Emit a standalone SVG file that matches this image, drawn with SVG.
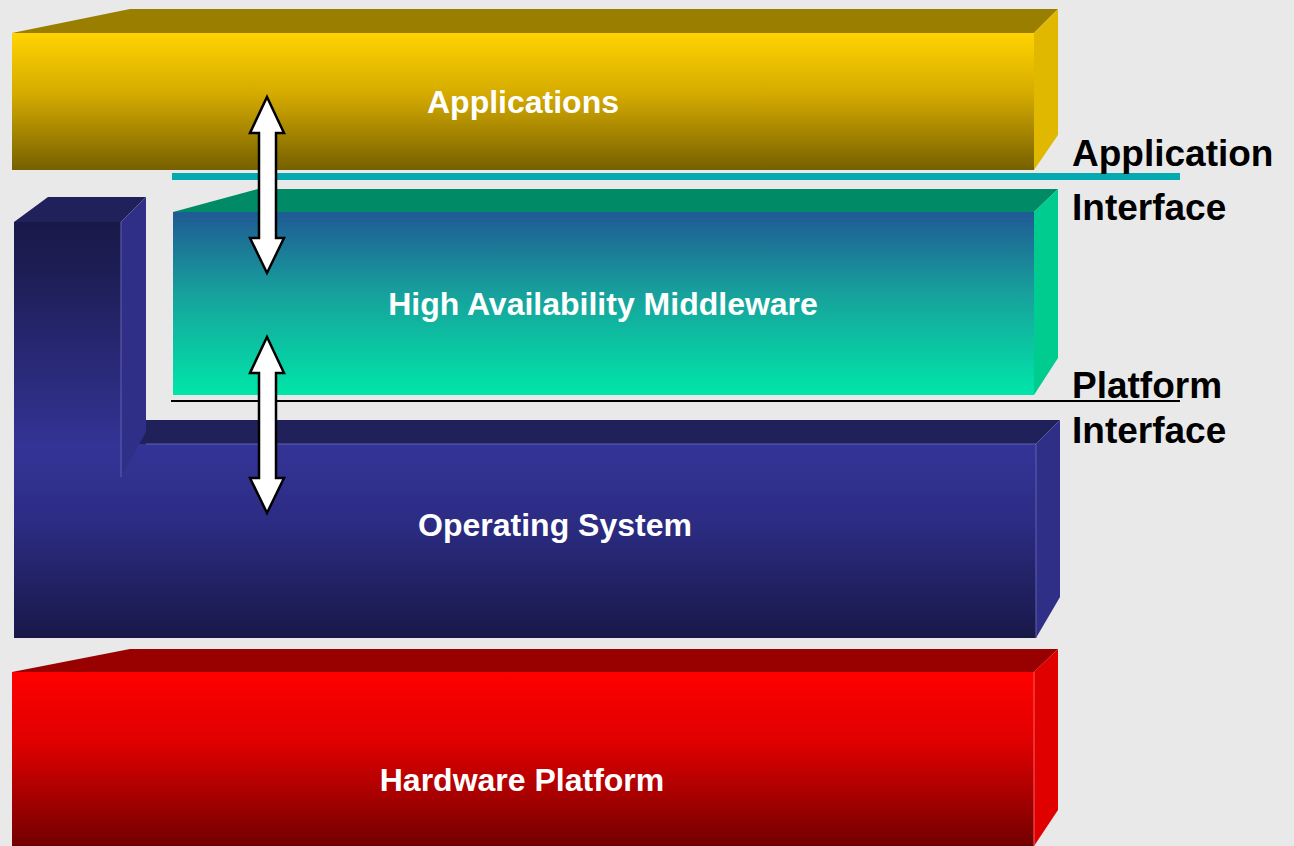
<svg xmlns="http://www.w3.org/2000/svg" width="1294" height="846" viewBox="0 0 1294 846">
<defs>
<linearGradient id="gApp" x1="0" y1="0" x2="0" y2="1"><stop offset="0" stop-color="#ffd400"/><stop offset="0.45" stop-color="#d4aa00"/><stop offset="1" stop-color="#766000"/></linearGradient>
<linearGradient id="gMid" x1="0" y1="0" x2="0" y2="1"><stop offset="0" stop-color="#1f5a94"/><stop offset="0.45" stop-color="#17a19c"/><stop offset="1" stop-color="#00e6a8"/></linearGradient>
<linearGradient id="gPil" x1="0" y1="0" x2="0" y2="1"><stop offset="0" stop-color="#181848"/><stop offset="0.25" stop-color="#1e1e58"/><stop offset="1" stop-color="#333394"/></linearGradient>
<linearGradient id="gOS" x1="0" y1="0" x2="0" y2="1"><stop offset="0" stop-color="#343498"/><stop offset="0.4" stop-color="#2c2c84"/><stop offset="1" stop-color="#181848"/></linearGradient>
<linearGradient id="gHw" x1="0" y1="0" x2="0" y2="1"><stop offset="0" stop-color="#ff0000"/><stop offset="0.4" stop-color="#e00000"/><stop offset="1" stop-color="#700000"/></linearGradient>
</defs>
<style>
.lbl{font-family:"Liberation Sans",Arial,sans-serif;font-weight:bold;font-size:32px;fill:#ffffff;text-anchor:middle}
.side{font-family:"Liberation Sans",Arial,sans-serif;font-weight:bold;font-size:37px;fill:#000000}
.arrow{fill:#ffffff;stroke:#000000;stroke-width:2.5;stroke-linejoin:miter}
</style>
<rect width="1294" height="846" fill="#e9e9e9"/>

<g id="hardware">
<polygon points="12,672 130,649 1058,649 1034,672" fill="#990000"/>
<polygon points="1034,672 1058,649 1058,810 1034,846" fill="#e00000"/>
<rect x="12" y="672" width="1022" height="176" fill="url(#gHw)"/>
<line x1="1034" y1="672" x2="1034" y2="846" stroke="#ff6060" stroke-width="1"/>
<text class="lbl" x="522" y="791">Hardware Platform</text>
</g>

<g id="os">
<polygon points="14,222 48,197 146,197 121,222" fill="#20205a"/>
<polygon points="146,420 1060,420 1036,444 121,444" fill="#20205a"/>
<polygon points="1036,444 1060,420 1060,597 1036,638" fill="#2f2f88"/>
<rect x="14" y="222" width="107" height="222" fill="url(#gPil)"/>
<rect x="14" y="444" width="1022" height="194" fill="url(#gOS)"/>
<polygon points="121,222 146,197 146,432 121,477" fill="#2f2f88"/>
<line x1="121" y1="222" x2="121" y2="477" stroke="#6060b0" stroke-width="1"/>
<line x1="146" y1="444" x2="1036" y2="444" stroke="#6060b0" stroke-width="1"/>
<line x1="1036" y1="444" x2="1036" y2="638" stroke="#6060b0" stroke-width="1"/>
<text class="lbl" x="555" y="536">Operating System</text>
</g>

<g id="middleware">
<polygon points="173,212 258,189 1058,189 1034,212" fill="#008a66"/>
<polygon points="1034,212 1058,189 1058,358 1034,395" fill="#00cc90"/>
<rect x="173" y="212" width="861" height="183" fill="url(#gMid)"/>
<text class="lbl" x="603" y="315">High Availability Middleware</text>
</g>

<g id="applications">
<polygon points="12,33 130,9 1058,9 1034,33" fill="#9a7e00"/>
<polygon points="1034,33 1058,9 1058,135 1034,170" fill="#e0b800"/>
<rect x="12" y="33" width="1022" height="137" fill="url(#gApp)"/>
<text class="lbl" x="523" y="113">Applications</text>
</g>

<g id="interfaces">
<rect x="172" y="173" width="1008" height="7" fill="#05aab0"/>
<line x1="171" y1="401" x2="1180" y2="401" stroke="#000000" stroke-width="2"/>
<text class="side" x="1072" y="166">Application</text>
<text class="side" x="1072" y="220">Interface</text>
<text class="side" x="1072" y="398">Platform</text>
<text class="side" x="1072" y="443">Interface</text>
</g>

<g id="connectors">
<polygon class="arrow" points="267,97 284,133 276,133 276,238 284,238 267,273 250,238 259,238 259,133 250,133"/>
<polygon class="arrow" points="267,337 284,373 276,373 276,478 284,478 267,513 250,478 259,478 259,373 250,373"/>
</g>
</svg>
